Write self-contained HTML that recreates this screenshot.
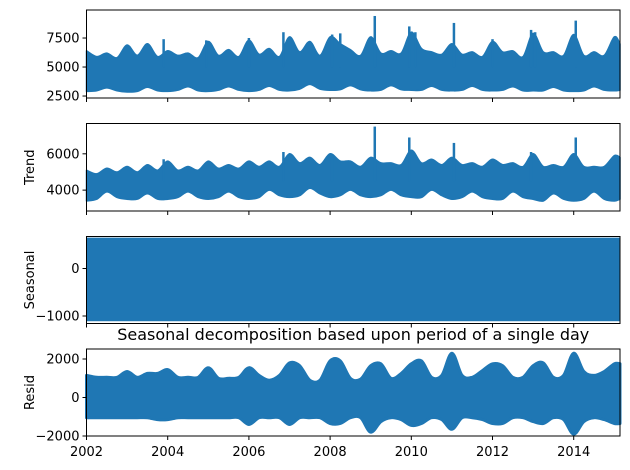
<!DOCTYPE html>
<html><head><meta charset="utf-8"><style>
body{margin:0;background:#fff}
svg{display:block;font-family:"DejaVu Sans","Liberation Sans",sans-serif}
</style></head><body>
<svg id="chart" width="630" height="470" viewBox="0 0 630 470"></svg>
<script>
const quarters = []; for (let i = 0; i < 54; i++) quarters.push(2002 + i * 0.25);
const obsUpper = [6400,5900,6200,5800, 6900,6000,7000,5900, 6400,6000,6200,5800, 7200,6000,6500,5900, 7300,6100,6600,5900, 7600,6300,7200,6000, 7600,7000,6500,6000, 7600,6200,6400,6200, 8000,6600,6300,6100, 7000,6100,6300,5900, 7200,6300,6400,5900, 7900,6300,6300,6000, 7800,6000,6300,6000, 7600,7000];
const obsLower = [2900,2950,3200,2950, 2850,2900,3250,2950, 2900,3000,3300,2950, 2900,3000,3300,3000, 2900,3000,3350,3000, 2950,3100,3500,3100, 3000,3050,3400,3050, 2950,3000,3400,3050, 3000,3000,3350,3000, 2950,3000,3350,3000, 2950,3000,3300,2950, 2950,2950,3250,2950, 2900,2950,3300,3000, 2950,3000];
const obsSpikes = [[2003.9,7400],[2004.95,7300],[2006.0,7500],[2006.85,8000],[2008.05,7800],[2008.25,7900],[2009.1,9400],[2009.95,8500],[2010.1,8000],[2011.05,8800],[2012.0,7400],[2012.95,8200],[2013.05,8000],[2014.05,9000]];
const trendUpper = [5100,4900,5200,5000, 5300,5000,5400,5100, 5600,5100,5300,5100, 5600,5200,5400,5200, 5600,5300,5600,5300, 6000,5500,5800,5400, 6000,5600,5600,5300, 5800,5500,5500,5400, 6200,5500,5700,5400, 5800,5400,5500,5300, 5700,5400,5500,5300, 6000,5300,5400,5300, 6000,5300,5300,5300, 5900,5800];
const trendLower = [3400,3500,3900,3600, 3500,3500,3800,3500, 3500,3600,3900,3600, 3500,3600,3900,3600, 3500,3600,4000,3700, 3600,3700,4100,3800, 3600,3700,4000,3700, 3600,3700,4000,3700, 3600,3600,4000,3700, 3500,3600,3900,3600, 3500,3500,3900,3600, 3500,3400,3800,3500, 3400,3500,3900,3500, 3400,3500];
const trendSpikes = [[2003.9,5700],[2006.85,6100],[2008.05,5800],[2009.1,7500],[2009.95,6900],[2011.05,6600],[2012.95,6100],[2014.05,6900]];
const seasonalMax = 650, seasonalMin = -1110;
const residUpper = [1150,1050,1050,1050, 1350,1050,1250,1250, 1450,1050,1050,1050, 1550,1000,1000,1050, 1550,1150,900,1150, 1800,1650,900,900, 1900,1900,1000,950, 1650,1750,1000,1250, 1750,1900,1050,1150, 2300,1150,1050,1400, 1750,1650,1050,1050, 1650,1800,1050,1150, 2300,1350,1150,1350, 1750,1750];
const residLower = [-1050,-1050,-1050,-1050, -1050,-1050,-1050,-1150, -1150,-1050,-1050,-1050, -1050,-1050,-1050,-1050, -1400,-1050,-1050,-1050, -1400,-1050,-1050,-1050, -1350,-1350,-1050,-1050, -1800,-1250,-1050,-1150, -1450,-1350,-1050,-1150, -1650,-1050,-1050,-1150, -1350,-1350,-1050,-1050, -1250,-1350,-1050,-1150, -1900,-1250,-1050,-1150, -1350,-1350];
const xTicks = [2002,2004,2006,2008,2010,2012,2014];

const NS="http://www.w3.org/2000/svg", svg=document.getElementById('chart');
const X0=86.5, X1=620, T0=2002, T1=2015.14, C='#1f77b4';
const sx=t=>X0+(t-T0)/(T1-T0)*(X1-X0);
function mk(tag,attrs,parent){const e=document.createElementNS(NS,tag);for(const k in attrs)e.setAttribute(k,attrs[k]);(parent||svg).appendChild(e);return e;}
const panels=[
 {name:'observed',top:10,bot:98,vmax:9915,vmin:2330,ticks:[2500,5000,7500],label:''},
 {name:'trend',top:123.5,bot:211,vmax:7670,vmin:2850,ticks:[4000,6000],label:'Trend'},
 {name:'seasonal',top:236.5,bot:323.5,vmax:674,vmin:-1158,ticks:[-1000,0],label:'Seasonal'},
 {name:'resid',top:349,bot:436,vmax:2520,vmin:-2000,ticks:[-2000,0,2000],label:'Resid'}];
function smooth(pts,start){
  let d=start?'M'+pts[0][0].toFixed(1)+','+pts[0][1].toFixed(1):'L'+pts[0][0].toFixed(1)+','+pts[0][1].toFixed(1);
  for(let i=0;i<pts.length-1;i++){
    const p0=pts[Math.max(i-1,0)],p1=pts[i],p2=pts[i+1],p3=pts[Math.min(i+2,pts.length-1)];
    const c1=[p1[0]+(p2[0]-p0[0])/6,p1[1]+(p2[1]-p0[1])/6],c2=[p2[0]-(p3[0]-p1[0])/6,p2[1]-(p3[1]-p1[1])/6];
    d+=`C${c1[0].toFixed(1)},${c1[1].toFixed(1)} ${c2[0].toFixed(1)},${c2[1].toFixed(1)} ${p2[0].toFixed(1)},${p2[1].toFixed(1)}`;
  }
  return d;
}
function band(p,up,lo,g,w){
  const sy=v=>p.top+(p.vmax-v)/(p.vmax-p.vmin)*(p.bot-p.top);
  const U=quarters.map((t,i)=>[sx(Math.min(t,T1)),sy(up[i])]);
  const L=quarters.map((t,i)=>[sx(Math.min(t,T1)),sy(lo[i])]).reverse();
  const d=smooth(U,true)+smooth(L,false)+'Z';
  const e=mk('path',{d:d,fill:C,stroke:C,'stroke-width':w,'stroke-linejoin':'round'},g);
  
  
}
panels.forEach((p,pi)=>{
  const g=mk('g',{});
  
  
  const sy=v=>p.top+(p.vmax-v)/(p.vmax-p.vmin)*(p.bot-p.top);
  if(pi===0){band(p,obsUpper,obsLower,g,1.5);obsSpikes.forEach(s=>{const l=mk('line',{x1:sx(s[0]),x2:sx(s[0]),y1:sy(s[1]),y2:sy(5000),stroke:C,'stroke-width':2.5},g);});}
  if(pi===1){band(p,trendUpper,trendLower,g,1.5);trendSpikes.forEach(s=>{const l=mk('line',{x1:sx(s[0]),x2:sx(s[0]),y1:sy(s[1]),y2:sy(4500),stroke:C,'stroke-width':2.5},g);});}
  if(pi===2){const r=mk('rect',{x:X0,y:sy(seasonalMax),width:X1-X0,height:sy(seasonalMin)-sy(seasonalMax),fill:C},g);}
  if(pi===3){band(p,residUpper,residLower,g,3);}
  const fr=mk('rect',{x:X0,y:p.top,width:X1-X0,height:p.bot-p.top,fill:'none',stroke:'#000','stroke-width':1},g);
  
  p.ticks.forEach(v=>{const y=sy(v);mk('line',{x1:X0-4,x2:X0,y1:y,y2:y,stroke:'#000'},g);
    const t=mk('text',{x:X0-7,y:y+4.5,'text-anchor':'end','font-size':13,fill:'#000'},g);t.textContent=String(v).replace('-','\u2212');
    });
  xTicks.forEach(v=>{const x=sx(v);mk('line',{x1:x,x2:x,y1:p.bot,y2:p.bot+4,stroke:'#000'},g);
    if(pi===3){const t=mk('text',{x:x,y:p.bot+20,'text-anchor':'middle','font-size':13,fill:'#000'},g);t.textContent=v;
    }});
  if(p.label){const cy=(p.top+p.bot)/2;const t=mk('text',{x:0,y:0,transform:`translate(34,${cy}) rotate(-90)`,'text-anchor':'middle','font-size':13,fill:'#000'},g);t.textContent=p.label;
    }
});
const title=mk('text',{x:(X0+X1)/2,y:340,'text-anchor':'middle','font-size':16,fill:'#000'});
title.textContent='Seasonal decomposition based upon period of a single day';


</script>
</body></html>
